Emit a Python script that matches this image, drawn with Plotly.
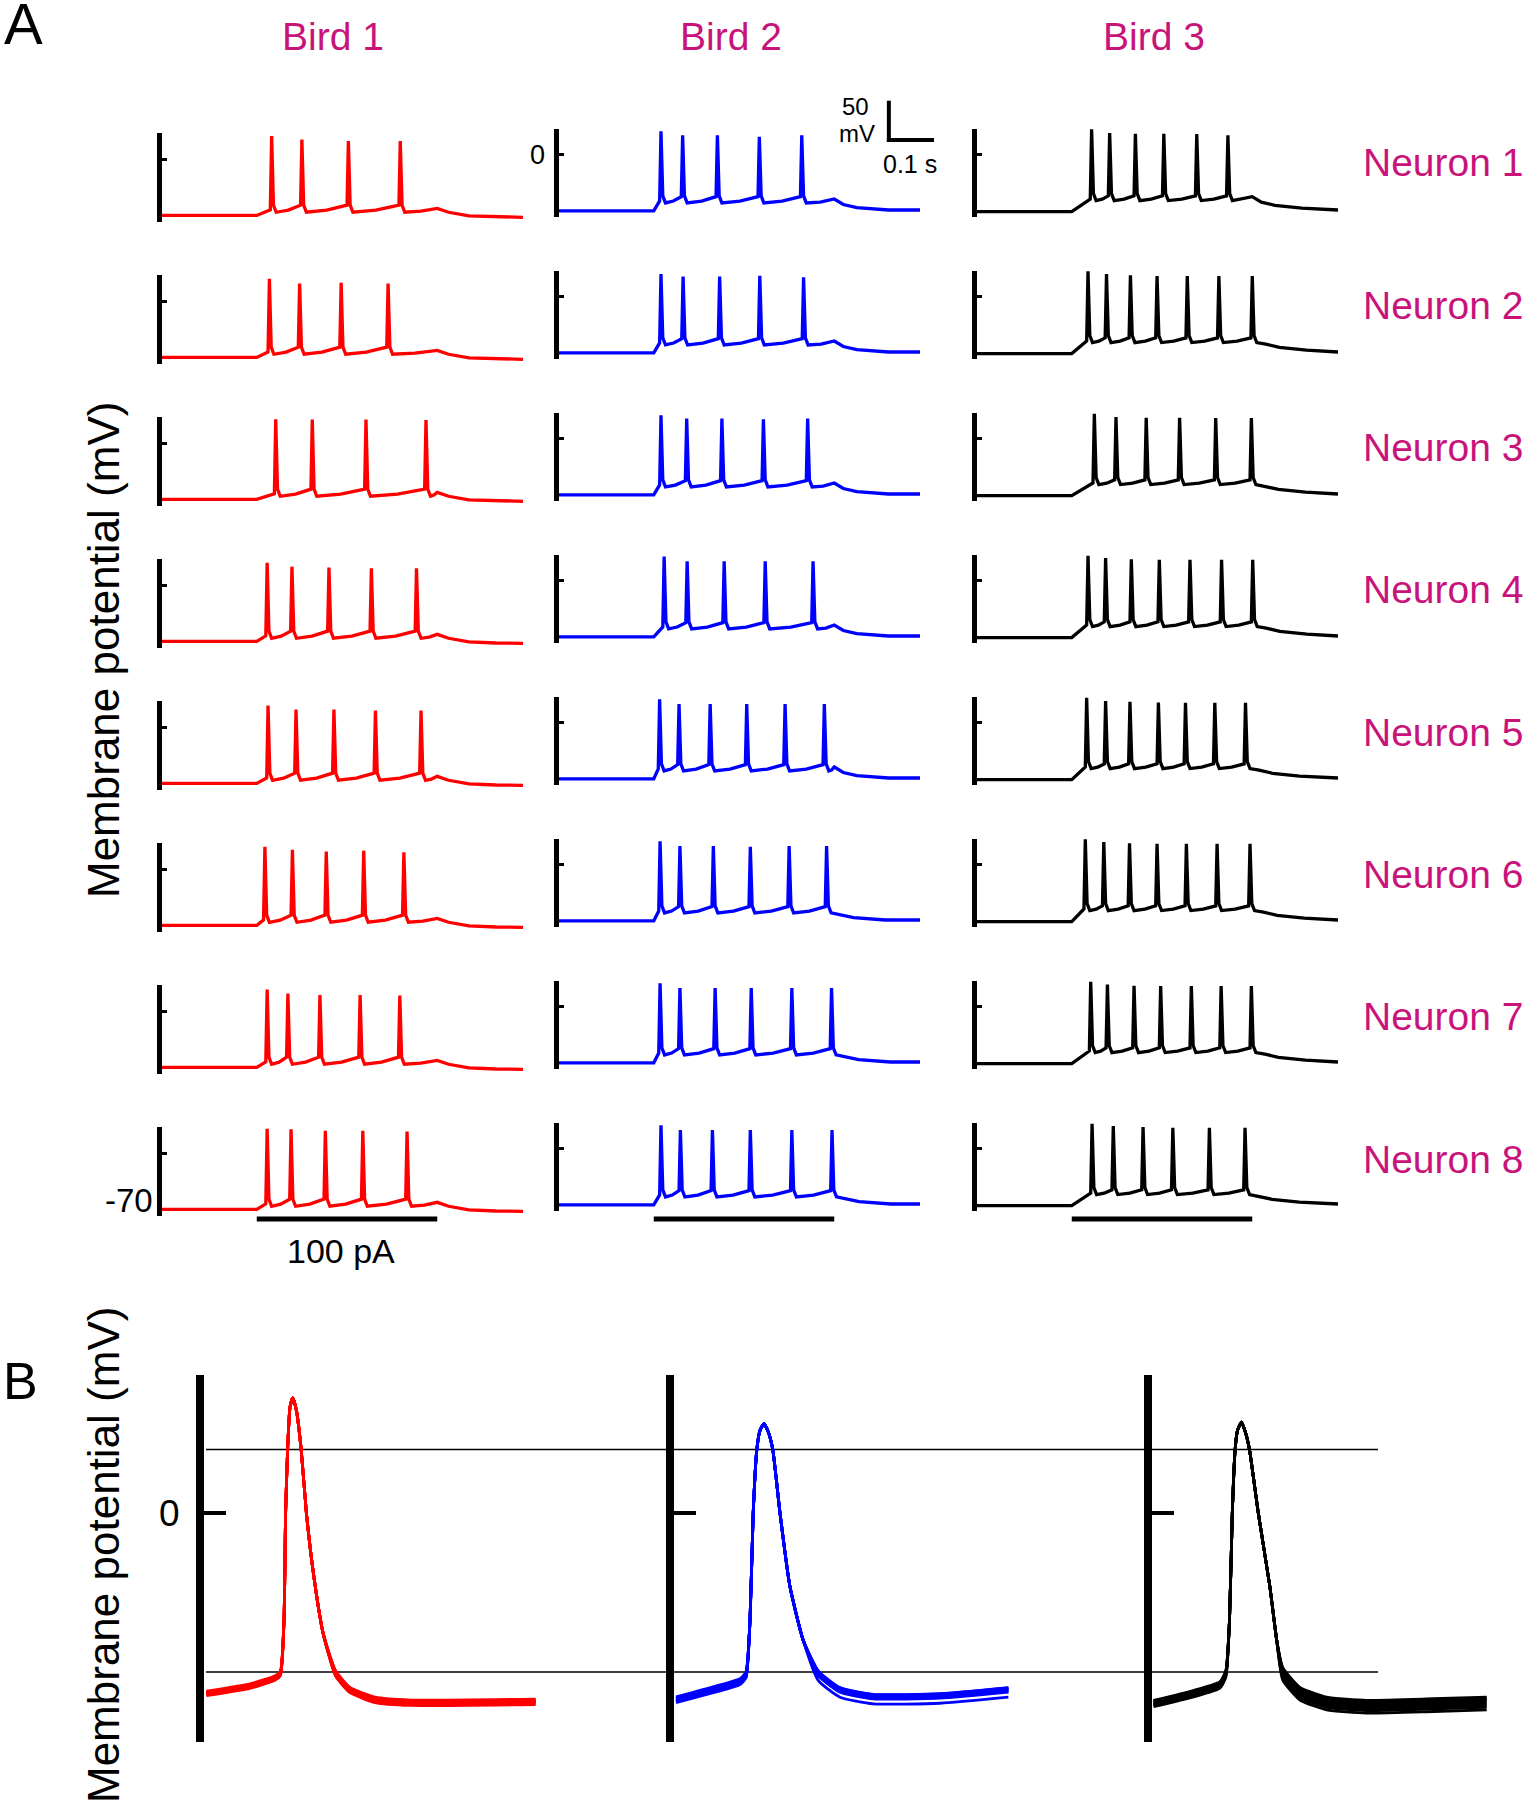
import plotly.graph_objects as go

# ---------------- data ----------------
BIRDS = ["Bird 1", "Bird 2", "Bird 3"]
NEURONS = [f"Neuron {i}" for i in range(1, 9)]
COLORS = ["#FF0000", "#0000FF", "#000000"]

STEP_ON, STEP_OFF, T_END = 0.21, 0.61, 0.8   # s (100 pA current step)

# spike times (s) per neuron, one list per bird
SPIKES_B1 = [
    [0.242, 0.309, 0.412, 0.527],
    [0.237, 0.304, 0.396, 0.500],
    [0.251, 0.332, 0.451, 0.584],
    [0.232, 0.287, 0.369, 0.463, 0.563],
    [0.234, 0.296, 0.380, 0.472, 0.573],
    [0.227, 0.288, 0.363, 0.446, 0.535],
    [0.232, 0.278, 0.349, 0.438, 0.526],
    [0.232, 0.285, 0.361, 0.444, 0.542],
]
PEAKS_B1 = [
    [30, 25.5, 23.5, 23.5],
    [29, 23, 24, 23],
    [31, 30.5, 30.5, 30],
    [29, 24, 23, 22, 22],
    [28, 23, 23, 21.5, 21.5],
    [29, 25, 23, 24, 22],
    [28, 23, 21, 21, 20.5],
    [31.5, 31, 29, 29, 28],
]
SPIKES_B2 = [
    [0.225, 0.273, 0.350, 0.443, 0.537],
    [0.225, 0.274, 0.355, 0.444, 0.541],
    [0.225, 0.282, 0.360, 0.452, 0.550],
    [0.232, 0.283, 0.365, 0.456, 0.562],
    [0.222, 0.265, 0.334, 0.415, 0.500, 0.587],
    [0.223, 0.267, 0.341, 0.423, 0.509, 0.592],
    [0.223, 0.267, 0.345, 0.425, 0.515, 0.603],
    [0.225, 0.268, 0.339, 0.423, 0.515, 0.604],
]
PEAKS_B2 = [
    [30, 25, 25, 23, 25],
    [29, 26, 26, 27, 25],
    [30, 26, 26, 25, 26],
    [31, 25, 25, 25, 25],
    [30, 24, 24, 24, 24, 24],
    [30, 24, 24, 23, 24, 24],
    [30, 24, 24, 24, 24, 24],
    [30, 24, 24, 24, 24, 24],
]
SPIKES_B3 = [
    [0.253, 0.293, 0.350, 0.413, 0.486, 0.555],
    [0.245, 0.286, 0.339, 0.398, 0.465, 0.535, 0.609],
    [0.259, 0.307, 0.374, 0.448, 0.528, 0.607],
    [0.245, 0.284, 0.341, 0.403, 0.471, 0.541, 0.610],
    [0.242, 0.284, 0.338, 0.401, 0.461, 0.526, 0.594],
    [0.239, 0.280, 0.337, 0.398, 0.463, 0.531, 0.604],
    [0.251, 0.288, 0.347, 0.406, 0.474, 0.540, 0.607],
    [0.254, 0.301, 0.367, 0.433, 0.514, 0.593],
]
PEAKS_B3 = [
    [32.5, 28, 27, 27, 26.5, 25],
    [32.5, 29, 27.5, 26.5, 26.5, 26.5, 26.5],
    [32, 28, 27, 27, 26.5, 26.5],
    [32, 29, 27.5, 27, 27, 27, 27],
    [32, 28, 27, 26, 25.5, 25.5, 25.5],
    [32.5, 29, 27.5, 27, 27, 27, 27],
    [32, 28.5, 27, 26.5, 26.5, 26.5, 26.5],
    [32, 29, 28, 27, 27, 27],
]
SPIKES = [SPIKES_B1, SPIKES_B2, SPIKES_B3]
PEAKS = [PEAKS_B1, PEAKS_B2, PEAKS_B3]
REST = [-71, -71, -72]   # resting potential (mV) per bird

# membrane levels relative to rest (mV), per bird
FIRST_THR = [7, 12.5, 16]
ISI_THR = [13, 18, 20]
TROUGH = [4, 10, 14]
PLATEAU = [5.5, 11, 16]
BUMP = [9, 15, 19]
DECAY_T = [[0.025, 0.07, 0.13], [0.02, 0.05, 0.12], [0.02, 0.05, 0.11]]
DECAY_V = [[4, -0.5, -2], [8, 4, 1], [12, 8, 4.5]]
END_V = [-2.5, 1, 2]

# Panel B: overlaid spike waveforms (time ms, mV)
B1_T = [0.05, 1.14, 1.76, 1.90, 1.99, 2.03, 2.08, 2.14, 2.21, 2.30, 2.42, 2.55, 2.75, 2.97, 3.28, 3.64, 4.27, 5.16, 8.28]
B1_V = [-56.8, -54.5, -52.0, -50.5, -33.7, 0, 19.9, 33.3, 36.2, 32.3, 19.9, 0, -21.2, -37.9, -50.5, -55.7, -58.8, -59.7, -59.4]
B2_T = [0.05, 0.82, 1.65, 1.80, 1.90, 1.98, 2.07, 2.15, 2.25, 2.36, 2.47, 2.65, 2.90, 3.23, 3.61, 4.15, 4.98, 6.65, 8.36]
B2_V = [-58.8, -56.2, -53.1, -51.0, -33.7, 0, 19.9, 26.0, 28.1, 25.4, 19.9, 0, -23.2, -40.0, -50.5, -55.7, -57.8, -57.6, -55.7]
B3_T = [0.05, 1.05, 1.71, 1.86, 1.95, 2.02, 2.09, 2.15, 2.25, 2.36, 2.45, 2.67, 2.96, 3.13, 3.28, 3.71, 4.38, 5.38, 7.05, 8.38]
B3_V = [-59.9, -56.8, -54.1, -50.5, -33.7, 0, 19.9, 26.0, 28.6, 24.9, 19.9, 0, -23.2, -40.0, -50.5, -56.8, -59.9, -60.9, -60.4, -59.9]
B_T = [B1_T, B2_T, B3_T]
B_V = [B1_V, B2_V, B3_V]
# per-neuron offsets (mV) before and after the spike
B_PRE = [[0.0, 0.4, -0.4, 0.8, -0.6, 0.2, -0.2, 0.5],
         [0.0, 0.5, -0.5, 1.0, -0.8, 0.3, -0.3, 0.6],
         [0.0, 0.6, -0.6, 1.0, -1.0, 0.3, -0.3, 0.8]]
B_TAIL = [[0.0, -0.5, 0.5, -0.8, 0.3, 0.6, -0.3, 0.9],
          [0.0, 0.4, -0.4, 0.7, -2.2, 0.3, -0.6, 0.8],
          [0.0, 1.2, -1.2, 2.0, -2.0, 0.6, -0.6, 1.5]]
B_LINES = [20, -50]   # mV reference lines

# ---------------- geometry (pixels of the 1527x1800 page) ----------------
W, H = 1527, 1800
FONT = "Liberation Sans, Arial, sans-serif"
MAGENTA = "#C8147A"

COL_X0 = [162, 559, 977]
COL_W = 361
ROW_TOP0 = [133.2, 128.6, 128.6]
ROW_STEP = 142.0
PANEL_H = 88.5
A_YR = [-79, 33.5]

B_X0 = [204.4, 674, 1151.5]
B_XR = [0, 8.4]
B_WPX = 336
B_TOP, B_BOT = 1375.4, 1741.7
B_YR = [-71.9, 43.3]


def px(x):
    return x / W


def py(y):
    return 1 - y / H


def a_to_px(c, r, t, v):
    x = COL_X0[c] + t / T_END * COL_W
    y = ROW_TOP0[c] + r * ROW_STEP + (A_YR[1] - v) / (A_YR[1] - A_YR[0]) * PANEL_H
    return x, y


def build_trace(c, spikes, peaks):
    rest = REST[c]
    t = [0.0, STEP_ON, spikes[0] - 0.002]
    v = [rest, rest, rest + FIRST_THR[c]]
    for i, s in enumerate(spikes):
        t += [s + 0.001, s + 0.005, s + 0.011]
        v += [peaks[i], rest + TROUGH[c] + 9, rest + TROUGH[c]]
        if i + 1 < len(spikes):
            a, b = s + 0.011, spikes[i + 1] - 0.002
            t += [a + 0.5 * (b - a), b]
            v += [rest + TROUGH[c] + 0.3 * (ISI_THR[c] - TROUGH[c]), rest + ISI_THR[c]]
    last = spikes[-1] + 0.011
    if STEP_OFF - last > 0.012:
        t += [last + 0.5 * (STEP_OFF - last), STEP_OFF]
        v += [rest + PLATEAU[c], rest + BUMP[c]]
        start = STEP_OFF
    else:
        start = last
    for dt, dv in zip(DECAY_T[c], DECAY_V[c]):
        t.append(start + dt)
        v.append(rest + dv)
    t.append(T_END)
    v.append(rest + END_V[c])
    return t, v


fig = go.Figure()
layout = dict(width=W, height=H, autosize=False,
              margin=dict(l=0, r=0, t=0, b=0),
              paper_bgcolor="white", plot_bgcolor="white",
              showlegend=False, font=dict(family=FONT, color="black"))


def names(k):
    return ("xaxis" if k == 1 else f"xaxis{k}", "yaxis" if k == 1 else f"yaxis{k}",
            "x" if k == 1 else f"x{k}", "y" if k == 1 else f"y{k}")


k = 0
A_REFS = {}
for c in range(3):
    for r in range(8):
        k += 1
        xa, ya, xr, yr = names(k)
        A_REFS[(c, r)] = (xr, yr)
        top = ROW_TOP0[c] + r * ROW_STEP
        layout[xa] = dict(domain=[px(COL_X0[c]), px(COL_X0[c] + COL_W)], range=[0, T_END],
                          visible=False, anchor=yr, fixedrange=True)
        layout[ya] = dict(domain=[py(top + PANEL_H), py(top)], range=A_YR, anchor=xr,
                          showline=True, linecolor="black", linewidth=4.5,
                          ticks="inside", tickvals=[0], ticklen=5, tickwidth=3, tickcolor="black",
                          showticklabels=False, showgrid=False, zeroline=False, fixedrange=True)
        t, v = build_trace(c, SPIKES[c][r], PEAKS[c][r])
        fig.add_trace(go.Scatter(x=t, y=v, xaxis=xr, yaxis=yr, mode="lines",
                                 line=dict(color=COLORS[c], width=3.3),
                                 hoverinfo="skip", showlegend=False))

B_REFS = []
for c in range(3):
    k += 1
    xa, ya, xr, yr = names(k)
    B_REFS.append((xr, yr))
    layout[xa] = dict(domain=[px(B_X0[c]), px(B_X0[c] + B_WPX)], range=B_XR,
                      visible=False, anchor=yr, fixedrange=True)
    layout[ya] = dict(domain=[py(B_BOT), py(B_TOP)], range=B_YR, anchor=xr,
                      showline=True, linecolor="black", linewidth=8,
                      ticks="inside", tickvals=[0], ticklen=22, tickwidth=4, tickcolor="black",
                      showticklabels=False, showgrid=False, zeroline=False, fixedrange=True)
    tt, vv = B_T[c], B_V[c]
    ipk = vv.index(max(vv))
    for n in range(8):
        v2 = []
        for i, val in enumerate(vv):
            if val < -40 and i < ipk:
                v2.append(val + B_PRE[c][n])
            elif val < -40 and i > ipk:
                v2.append(val + B_TAIL[c][n])
            else:
                v2.append(val)
        fig.add_trace(go.Scatter(x=tt, y=v2, xaxis=xr, yaxis=yr, mode="lines",
                                 line=dict(color=COLORS[c], width=2.8, shape="spline", smoothing=0.5),
                                 hoverinfo="skip", showlegend=False))

shapes = []
# current-step bars under the last row
for c in range(3):
    xr, yr = A_REFS[(c, 7)]
    shapes.append(dict(type="line", xref=xr, yref="paper", x0=STEP_ON, x1=STEP_OFF,
                       y0=py(1219), y1=py(1219), line=dict(color="black", width=5)))
# scale bar (50 mV, 0.1 s) in bird 2 neuron 1 units
SB_T, SB_V = 0.731, 19
x0, y0 = a_to_px(1, 0, SB_T, SB_V)
x1, y1 = a_to_px(1, 0, SB_T, SB_V + 50)
x2, _ = a_to_px(1, 0, SB_T + 0.1, SB_V)
shapes.append(dict(type="line", xref="paper", yref="paper", x0=px(x0), x1=px(x1),
                   y0=py(y0 + 2), y1=py(y1), line=dict(color="black", width=4)))
shapes.append(dict(type="line", xref="paper", yref="paper", x0=px(x0 - 2), x1=px(x2),
                   y0=py(y0), y1=py(y0), line=dict(color="black", width=4)))
# reference lines in panel B
for lv in B_LINES:
    shapes.append(dict(type="line", xref="paper", yref=B_REFS[0][1], x0=px(206), x1=px(1378),
                       y0=lv, y1=lv, line=dict(color="black", width=1.5), layer="below"))
layout["shapes"] = shapes

ann = []


def txt(text, x, y, size, color="black", **kw):
    d = dict(text=text, x=px(x), y=py(y), xref="paper", yref="paper", showarrow=False,
             font=dict(size=size, color=color, family=FONT), xanchor="center", yanchor="middle")
    d.update(kw)
    ann.append(d)


txt("A", 23, 24, 58)
txt("B", 20, 1381, 52)
for c, bx in enumerate([333, 731, 1154]):
    txt(BIRDS[c], bx, 37, 39, MAGENTA)
for r in range(8):
    txt(NEURONS[r], 1443, 163 + 142.3 * r, 39, MAGENTA)
txt("Membrane potential (mV)", 103, 650, 44, textangle=-90)
txt("Membrane potential (mV)", 103, 1555, 44, textangle=-90)
txt("100 pA", 341, 1251, 34)
txt("50", 855, 107, 24)
txt("mV", 857, 133, 24)
txt("0.1 s", 910, 164, 25)
# axis value labels
xr, yr = A_REFS[(1, 0)]
ann.append(dict(text="0", xref=xr + " domain", yref=yr, x=0, y=0, xanchor="right", yanchor="middle",
                xshift=-12, showarrow=False, font=dict(size=27, family=FONT, color="black")))
xr, yr = A_REFS[(0, 7)]
ann.append(dict(text="-70", xref=xr + " domain", yref=yr, x=0, y=-70, xanchor="right", yanchor="middle",
                xshift=-7, yshift=8, showarrow=False, font=dict(size=33, family=FONT, color="black")))
xr, yr = B_REFS[0]
ann.append(dict(text="0", xref=xr + " domain", yref=yr, x=0, y=0, xanchor="right", yanchor="middle",
                xshift=-22, showarrow=False, font=dict(size=37, family=FONT, color="black")))
layout["annotations"] = ann

fig.update_layout(**layout)
fig.write_html("out.html", config={"displayModeBar": False},
               post_script="document.body.style.margin='0px';document.body.style.overflow='hidden';")
